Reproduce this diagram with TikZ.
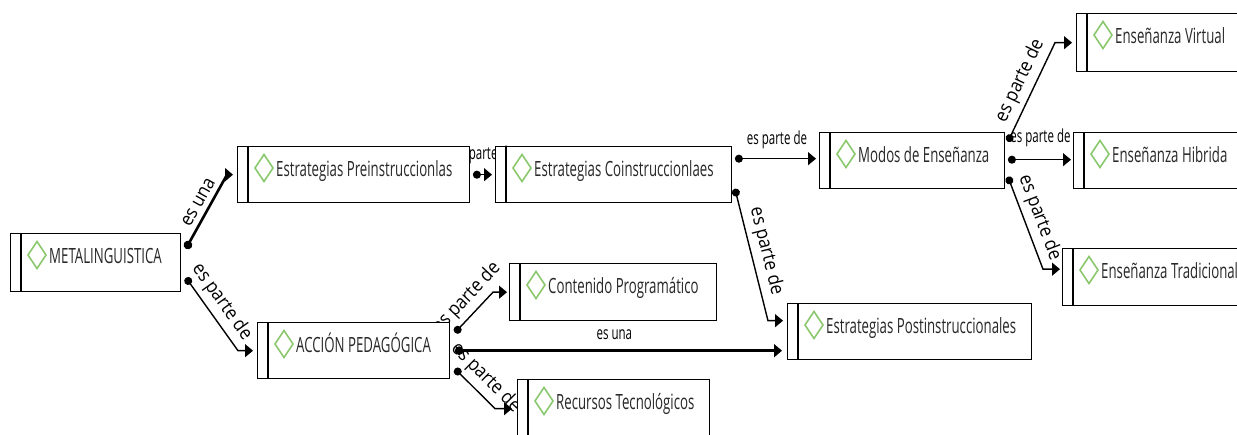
\documentclass[tikz,border=0pt]{standalone}
\usepackage{fontspec}
\setmainfont{Open Sans}
\newfontfamily\boxfont[FakeStretch=0.63]{Open Sans}
\newfontfamily\hlabfont[FakeStretch=0.64]{Open Sans}
\newfontfamily\slabfont[FakeStretch=0.9]{Open Sans}
\usetikzlibrary{arrows.meta,calc}
\pgfdeclarelayer{back}
\pgfsetlayers{back,main}
\definecolor{diag}{RGB}{140,200,110}
\definecolor{txt}{RGB}{40,40,40}
\tikzset{
  cbox/.style={draw, line width=1.4pt, fill=white, anchor=north west, inner sep=0pt},
  ctext/.style={anchor=base west, inner sep=0pt, font=\boxfont\fontsize{21}{24}\selectfont, text=txt},
  iconline/.style={line width=1.2pt},
  icon/.style={draw=diag, line width=1.6pt, line join=miter},
  conn/.style={line width=1.4pt, {Circle[length=8pt]}-{Triangle[length=8pt,width=13pt]}},
  thickconn/.style={line width=2.6pt, {Circle[length=8.5pt]}-{Triangle[length=8pt,width=13pt]}},
  hlab/.style={font=\hlabfont\fontsize{18}{20}\selectfont, inner sep=0pt},
  slab/.style={font=\slabfont\fontsize{19}{21}\selectfont, inner sep=0pt, sloped, above=5pt},
}
\newcommand\conceptbox[6]{%
  \node[cbox, minimum width={(#4-#2)*1pt}, minimum height={(#5-#3)*1pt}] (#1) at (#2,#3) {};
  \draw[iconline] ([xshift=11pt]#1.north west) -- ([xshift=11pt]#1.south west);
  \draw[icon] ([shift={(27pt,-8.5pt)}]#1.north west) -- ++(9pt,-13.5pt) -- ++(-9pt,-13.5pt) -- ++(-9pt,13.5pt) -- cycle;
  \node[ctext] (#1-t) at ([shift={(39pt,-30.5pt)}]#1.north west) {#6};
}
\begin{document}
\begin{tikzpicture}[x=1pt,y=-1pt]
\useasboundingbox (0,0) rectangle (1237,435);
\clip (0,0) rectangle (1237,435);
\conceptbox{meta}{10}{233}{180}{291}{METALINGUISTICA}
\conceptbox{pre}{237}{146}{469}{202}{Estrategias Preinstruccionlas}
\conceptbox{co}{495}{146}{731}{202}{Estrategias Coinstruccionlaes}
\conceptbox{modos}{819}{132}{1004}{188}{Modos de Enseñanza}
\conceptbox{virt}{1076}{13}{1260}{71}{Enseñanza Virtual}
\conceptbox{hib}{1073}{132}{1260}{188}{Enseñanza Hibrida}
\conceptbox{trad}{1062}{248}{1260}{305}{Enseñanza Tradicional}
\conceptbox{acc}{257}{322}{449}{378}{ACCIÓN PEDAGÓGICA}
\conceptbox{cont}{509}{263}{716}{320}{Contenido Programático}
\conceptbox{rec}{517}{379}{709}{437}{Recursos Tecnológicos}
\conceptbox{post}{787}{303}{1031}{359}{Estrategias Postinstruccionales}
\begin{pgfonlayer}{back}
\fill[white] (0,0) rectangle (1237,435);
% METALINGUISTICA
\draw[thickconn, shorten >=4pt] ([shift={(4.5pt,14pt)}]meta.east) -- node[slab, pos=0.55]{es una} ([xshift=-10pt]pre.west) -- (pre.west);
\draw[conn, shorten >=4pt] ([shift={(4.5pt,-15pt)}]meta.east) -- node[slab, pos=0.45]{es parte de} ([xshift=-19pt]acc.west) -- (acc.west);
% Preinstruccionales
\draw[conn, shorten >=3pt] ([xshift=2.5pt]pre.east) -- node[hlab, above=10pt]{es parte de} (co.west);
% Coinstruccionales
\draw[conn, shorten >=3pt] ([shift={(2.5pt,16pt)}]co.east) -- node[hlab, above=9pt]{es parte de} ([yshift=2pt]modos.west);
\draw[conn, shorten >=4pt] ([shift={(2.5pt,-14pt)}]co.east) -- node[slab, pos=0.5]{es parte de} ([shift={(-19pt,11pt)}]post.west) -- ([yshift=11pt]post.west);
% ACCION PEDAGOGICA
\draw[conn, shorten >=2pt] ([shift={(4.5pt,18pt)}]acc.east) -- node[slab, pos=0.6]{es parte de} ([xshift=-16pt]cont.west) -- (cont.west);
\draw[thickconn, shorten >=5pt] ([xshift=4.5pt]acc.east) -- node[hlab, above=10pt, pos=0.48]{es una} ([yshift=-19pt]post.west);
\draw[conn, shorten >=5pt] ([shift={(4.5pt,-18pt)}]acc.east) -- node[slab, pos=0.5]{es parte de} ([xshift=-22pt]rec.west) -- (rec.west);
% Modos de Ensenanza
\draw[conn, shorten >=4pt] ([shift={(2.5pt,19pt)}]modos.east) -- node[slab, pos=0.55]{es parte de} ([xshift=-21pt]virt.west) -- (virt.west);
\draw[conn, shorten >=2pt] ([shift={(2.5pt,1pt)}]modos.east) -- node[hlab, above=12pt]{es parte de} ([yshift=1pt]hib.west);
\draw[conn, shorten >=2pt] ([shift={(2.5pt,-16pt)}]modos.east) -- node[slab, pos=0.5]{es parte de} ([shift={(-19pt,8pt)}]trad.west) -- ([yshift=8pt]trad.west);
\end{pgfonlayer}
\end{tikzpicture}
\end{document}
